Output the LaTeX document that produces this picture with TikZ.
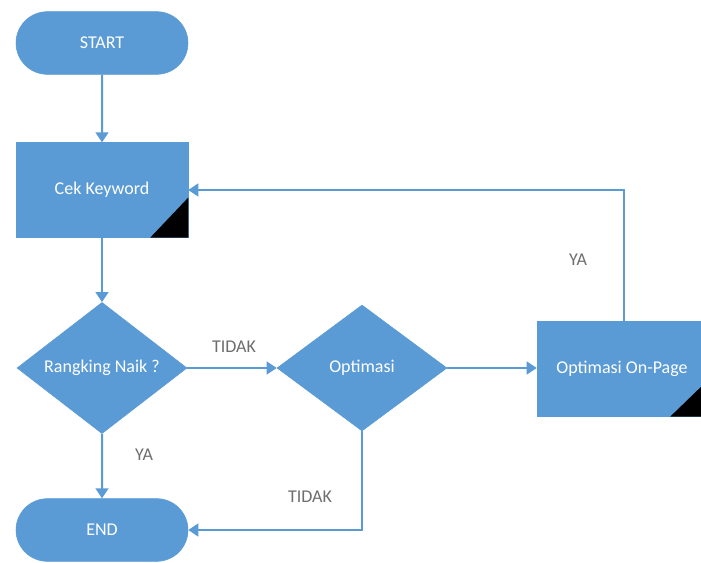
\documentclass[tikz,border=0pt]{standalone}
\usepackage{fontspec}
\setmainfont{Carlito}
\usetikzlibrary{shapes.misc,shapes.geometric,arrows.meta,calc}
\definecolor{fblue}{HTML}{5B9BD5}
\definecolor{lblgray}{HTML}{6E6E6E}
\begin{document}
\begin{tikzpicture}[x=0.75pt,y=-0.75pt,
  txt/.style={font=\fontsize{13.5pt}{15pt}\selectfont},
  term/.style={rounded rectangle, fill=fblue, draw=fblue, minimum width=129pt, minimum height=47pt, inner sep=0pt, text=white, txt},
  procbox/.style={rectangle, fill=fblue, draw=fblue, minimum width=129pt, minimum height=71pt, inner sep=0pt, text=white, txt},
  decis/.style={diamond, fill=fblue, draw=fblue, minimum width=127.5pt, minimum height=94.5pt, inner sep=0pt, text=white, txt},
  conn/.style={draw=fblue, line width=1.5pt, -{Triangle[width=9.5pt,length=7.5pt]}},
  lbl/.style={text=lblgray, txt}]
\useasboundingbox (0,0) rectangle (701,563);
\fill[white] (0,0) rectangle (701,563);
\node[term] (start) at (102,43) {START};
\node[procbox] (cek) at (102,190) {Cek Keyword};
\node[decis] (naik) at (102,368) {Rangking Naik ?};
\node[decis] (opt) at (362,368) {Optimasi};
\node[procbox, minimum width=123pt] (onpage) at (619,369) {};
\node[text=white, txt] (onpagetxt) at (622,369) {Optimasi On-Page};
\node[term] (end) at (102,530) {END};
% corner triangles
\fill[black] ($(cek.south east)+(-38,0)$) -- (cek.south east) -- ($(cek.south east)+(0,-40)$) -- cycle;
\fill[black] ($(onpage.south east)+(-31,0)$) -- (onpage.south east) -- ($(onpage.south east)+(0,-30)$) -- cycle;
% connectors
\draw[conn] (start) -- (cek);
\draw[conn] (cek) -- (naik);
\draw[conn] (naik) -- (opt);
\draw[conn] (opt.east) -- (opt.east -| onpage.west);
\coordinate (up) at (624,190);
\draw[conn] (onpage.north -| up) -- (up) -- (cek.east);
\draw[conn] (naik) -- (end);
\coordinate (dn) at (362,530);
\draw[conn] (opt.south) -- (dn) -- (end.east);
% labels
\node[lbl] (l1) at (234,347) {TIDAK};
\node[lbl] (l2) at (578,260) {YA};
\node[lbl] (l3) at (144,455) {YA};
\node[lbl] (l4) at (310,497) {TIDAK};
\end{tikzpicture}
\end{document}
